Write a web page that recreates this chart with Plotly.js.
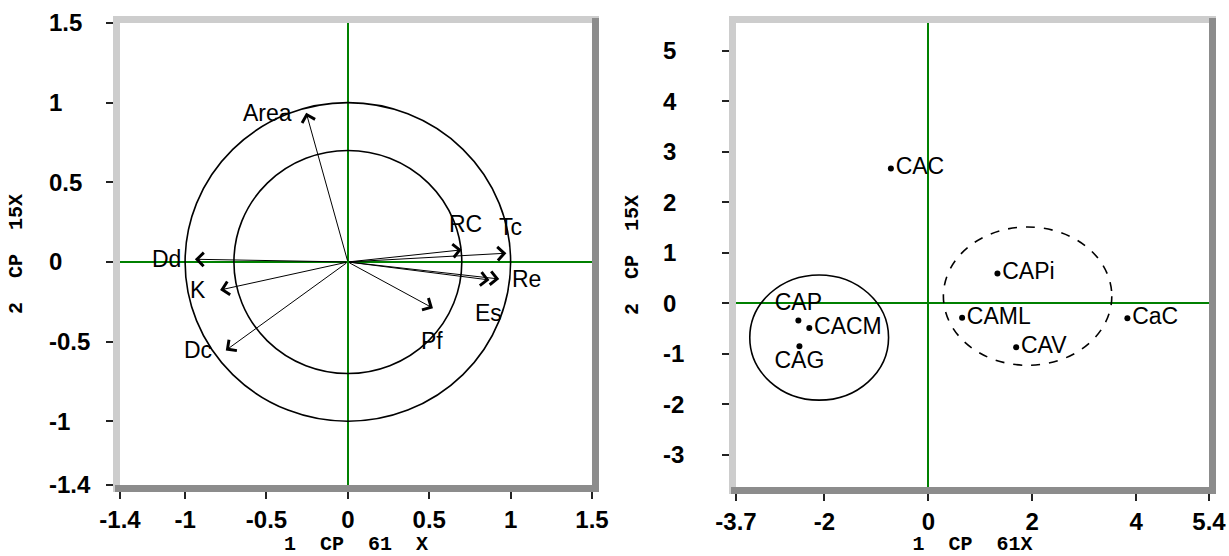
<!DOCTYPE html>
<html>
<head>
<meta charset="utf-8">
<script src="https://cdn.plot.ly/plotly-3.0.1.min.js"></script>
<style>
  html, body { margin: 0; padding: 0; background: #ffffff; }
  #chart { width: 1229px; height: 556px; }
</style>
</head>
<body>
<div id="chart"></div>
<script>
// ---------- DATA ----------
// Left panel: variable loadings (correlation circle)
const varNames = ['Area', 'Dd', 'K', 'Dc', 'RC', 'Tc', 'Re', 'Es', 'Pf'];
const varCP1   = [-0.256, -0.94, -0.785, -0.75, 0.70, 0.974, 0.93, 0.87, 0.523];
const varCP2   = [0.937, 0.017, -0.176, -0.555, 0.076, 0.055, -0.107, -0.113, -0.29];
const varLabelSide = ['left', 'left', 'left', 'left', 'top', 'top', 'right', 'bottom', 'bottom'];
const corrCircleRadii = [1, 0.7];

// Right panel: site scores
const siteNames = ['CAC', 'CAPi', 'CAP', 'CACM', 'CAG', 'CAML', 'CAV', 'CaC'];
const siteCP1   = [-0.72, 1.33, -2.50, -2.29, -2.48, 0.65, 1.69, 3.83];
const siteCP2   = [2.67, 0.59, -0.34, -0.49, -0.85, -0.29, -0.87, -0.30];
const siteLabelPos = ['middle right', 'middle right', 'top center', 'middle right',
                      'bottom center', 'middle right', 'middle right', 'middle right'];

// Group ellipses around site clusters (centre and half-widths in score units)
const groupNames   = ['grupo 1', 'grupo 2'];
const groupCentreX = [-2.10, 1.91];
const groupCentreY = [-0.68, 0.14];
const groupHalfX   = [1.335, 1.62];
const groupHalfY   = [1.24, 1.37];
const groupDash    = ['solid', 'dash'];

// Axis ticks
const leftTicks   = [-1.4, -1, -0.5, 0, 0.5, 1, 1.5];
const rightXTicks = [-3.7, -2, 0, 2, 4, 5.4];
const rightYTicks = [-3, -2, -1, 0, 1, 2, 3, 4, 5];
const xTitleLeft  = '1\u00a0\u00a0CP\u00a0\u00a061\u00a0\u00a0X';
const xTitleRight = '1\u00a0\u00a0CP\u00a0\u00a061X';
const yTitle      = '2\u00a0\u00a0CP\u00a0\u00a015X';

// ---------- LAYOUT HELPERS ----------
const W = 1229, H = 556;
const px = v => v / W;
const py = v => 1 - v / H;

const tickFont  = { family: 'Liberation Sans, Arial, sans-serif', size: 24, weight: 700, color: '#000' };
const titleFont = { family: 'Liberation Mono, Courier New, monospace', size: 20, weight: 700, color: '#000' };
const labelFont = { family: 'Liberation Sans, Arial, sans-serif', size: 23, color: '#000' };
const GREEN = '#008000';

function mainAxis(domain, range, ticks, titleText, standoff, showLabels) {
  return {
    domain: domain, range: range, autorange: false, fixedrange: true,
    tickmode: 'array', tickvals: ticks, ticktext: ticks.map(String),
    ticks: 'outside', ticklen: 13, tickwidth: 2, tickcolor: '#222',
    showticklabels: showLabels, tickfont: tickFont, ticklabelstandoff: 0,
    showgrid: false, showline: false,
    zeroline: true, zerolinecolor: GREEN, zerolinewidth: 2,
    automargin: false,
    title: { text: titleText, font: titleFont, standoff: standoff }
  };
}
function labelAxis(overlay, range, ticks, pos) {
  return {
    overlaying: overlay, anchor: 'free', position: pos, side: 'right',
    range: range, autorange: false, fixedrange: true,
    tickmode: 'array', tickvals: ticks, ticktext: ticks.map(String),
    ticks: '', showticklabels: true, tickfont: tickFont,
    showgrid: false, showline: false, zeroline: false, automargin: false
  };
}

const leftRangeX = [-1.4, 1.5], leftRangeY = [-1.4, 1.5];
const rightRangeX = [-3.7, 5.4], rightRangeY = [-3.64, 5.55];

// ---------- TRACES ----------
const traces = [
  // right panel site points with labels
  {
    type: 'scatter', mode: 'markers+text', xaxis: 'x2', yaxis: 'y2',
    x: siteCP1, y: siteCP2, text: siteNames, textposition: siteLabelPos,
    marker: { color: '#000', size: 6 }, textfont: labelFont,
    hoverinfo: 'text', showlegend: false, cliponaxis: false
  },
  // empty traces to register label-only overlay axes
  { type: 'scatter', x: [], y: [], xaxis: 'x', yaxis: 'y3', showlegend: false, hoverinfo: 'skip' },
  { type: 'scatter', x: [], y: [], xaxis: 'x2', yaxis: 'y4', showlegend: false, hoverinfo: 'skip' }
];

// ---------- SHAPES ----------
const shapes = [];
// correlation circles
corrCircleRadii.forEach(r => shapes.push({
  type: 'circle', xref: 'x', yref: 'y', x0: -r, x1: r, y0: -r, y1: r,
  line: { color: '#000', width: 1.6 }, layer: 'above'
}));
// group ellipses
groupNames.forEach((g, i) => shapes.push({
  type: 'circle', xref: 'x2', yref: 'y2',
  x0: groupCentreX[i] - groupHalfX[i], x1: groupCentreX[i] + groupHalfX[i],
  y0: groupCentreY[i] - groupHalfY[i], y1: groupCentreY[i] + groupHalfY[i],
  line: { color: '#000', width: 1.6, dash: groupDash[i] }, layer: 'above'
}));
// bevelled frames around both panels
const LIGHT = '#cdcdcd', DARK = '#8c8c8c';
function frame(l, t, r, b, th) {
  const rect = (x0, y0, x1, y1, c) => shapes.push({
    type: 'rect', xref: 'paper', yref: 'paper',
    x0: px(x0), x1: px(x1), y0: py(y1), y1: py(y0),
    fillcolor: c, line: { width: 0 }, layer: 'above'
  });
  rect(l - th, t - th, r + th, t, LIGHT);     // top
  rect(l - th, t - th, l, b + th, LIGHT);     // left
  rect(r, t - th + 2, r + th, b + th, DARK);  // right
  rect(l - th + 2, b, r + th, b + th, DARK);  // bottom
}
frame(120, 23, 592, 485, 7);
frame(736, 23, 1209, 487, 7);

// ---------- ANNOTATIONS ----------
const annotations = [];
varNames.forEach((n, i) => {
  annotations.push({
    xref: 'x', yref: 'y', x: varCP1[i], y: varCP2[i],
    axref: 'x', ayref: 'y', ax: 0, ay: 0,
    text: '', showarrow: true, arrowhead: 4, arrowsize: 2.6,
    arrowwidth: 1, arrowcolor: '#000', standoff: 0
  });
  const side = varLabelSide[i];
  const a = { xref: 'x', yref: 'y', x: varCP1[i], y: varCP2[i], text: n,
              showarrow: false, font: labelFont, borderpad: 0 };
  if (side === 'left')   { a.xanchor = 'right';  a.yanchor = 'middle'; a.xshift = -13; }
  if (side === 'right')  { a.xanchor = 'left';   a.yanchor = 'middle'; a.xshift = 12; }
  if (side === 'top')    { a.xanchor = 'center'; a.yanchor = 'bottom'; a.yshift = 12; a.xshift = 4; }
  if (side === 'bottom') { a.xanchor = 'center'; a.yanchor = 'top';    a.yshift = -19; a.xshift = -1; }
  annotations.push(a);
});

// ---------- LAYOUT ----------
const layout = {
  width: W, height: H,
  margin: { l: 0, r: 0, t: 0, b: 0, pad: 0 },
  paper_bgcolor: '#ffffff', plot_bgcolor: '#ffffff',
  showlegend: false,
  xaxis:  mainAxis([px(120), px(592)], leftRangeX, leftTicks, xTitleLeft, 16, true),
  yaxis:  mainAxis([py(485), py(23)], leftRangeY, leftTicks, yTitle, 78, false),
  xaxis2: Object.assign(mainAxis([px(736), px(1209)], rightRangeX, rightXTicks, xTitleRight, 16, true), { anchor: 'y2' }),
  yaxis2: Object.assign(mainAxis([py(487), py(23)], rightRangeY, rightYTicks, yTitle, 78, false), { anchor: 'x2' }),
  yaxis3: labelAxis('y', leftRangeY, leftTicks, px(48)),
  yaxis4: labelAxis('y2', rightRangeY, rightYTicks, px(662)),
  shapes: shapes,
  annotations: annotations
};
layout.xaxis.anchor = 'y';
layout.yaxis.anchor = 'x';

Plotly.newPlot('chart', traces, layout, { displayModeBar: false, staticPlot: true });
</script>
</body>
</html>
